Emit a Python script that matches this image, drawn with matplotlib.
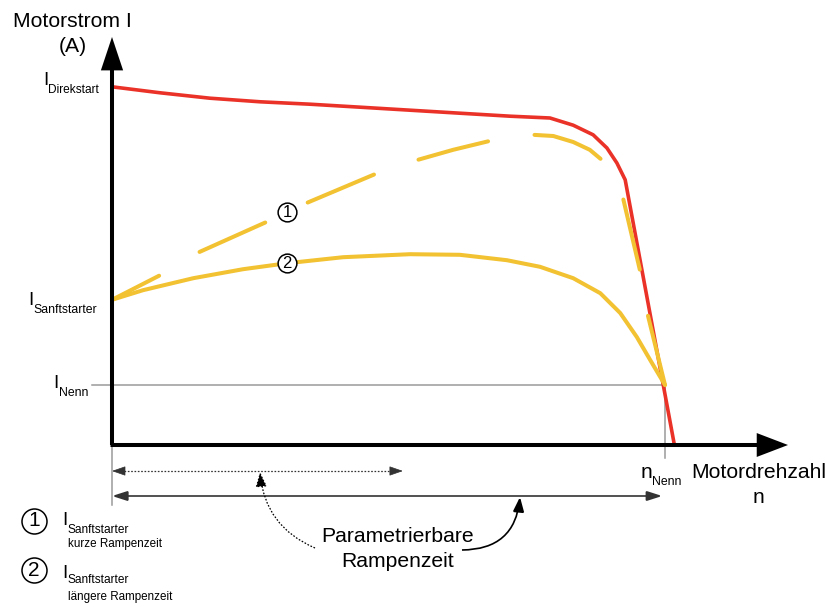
import matplotlib
matplotlib.use("Agg")
import matplotlib.pyplot as plt
from matplotlib.patches import FancyArrowPatch

plt.rcParams['font.family'] = ['Liberation Sans', 'DejaVu Sans']
plt.rcParams['lines.scale_dashes'] = False

# ---- data (speed in % of n_Nenn, current in multiples of I_Nenn) ----
red_speed = [0, 8.7, 17.7, 26.8, 35.8, 44.9, 53.9, 62.9, 72.0, 79.2, 83.4, 87.0, 89.5, 91.3, 92.8, 101.7]
red_current = [5.97, 5.87, 5.78, 5.72, 5.68, 5.63, 5.58, 5.53, 5.48, 5.45, 5.33, 5.17, 4.95, 4.70, 4.42, 0.0]

soft1_speed = [0, 8.7, 15.4, 28.0, 35.1, 47.7, 55.2, 61.7, 68.4, 76.1, 79.8, 83.4, 86.4, 88.6, 90.6, 92.4, 95.5, 96.8, 100]
soft1_current = [2.42, 2.83, 3.20, 3.72, 4.03, 4.52, 4.75, 4.92, 5.07, 5.17, 5.15, 5.05, 4.92, 4.75, 4.45, 4.12, 2.90, 2.20, 1.0]

soft2_speed = [0, 5.6, 14.7, 23.7, 31.7, 41.8, 53.9, 62.9, 71.4, 77.4, 83.4, 88.3, 91.9, 94.9, 97.3, 100]
soft2_current = [2.42, 2.58, 2.78, 2.93, 3.03, 3.13, 3.18, 3.17, 3.08, 2.97, 2.78, 2.53, 2.20, 1.80, 1.42, 1.0]

I_nenn = 1.0
n_nenn = 100
ramp_short_end = 52.6
ramp_long_end = 99.5
y_tick_labels = ["Direkstart", "Sanftstarter", "Nenn"]

# ---- figure geometry ----
PX_X, PX_Y = 5.53, 60.0      # pixels per data unit
OX, OY = 112, 445            # origin in pixels
W, H = 829, 604

def P(px, py):
    return ((px - OX) / PX_X, (OY - py) / PX_Y)

fig = plt.figure(figsize=(W / 100, H / 100), dpi=100)
ax = fig.add_axes([0, 0, 1, 1])
ax.set_xlim(-OX / PX_X, (W - OX) / PX_X)
ax.set_ylim((OY - H) / PX_Y, OY / PX_Y)
ax.axis('off')

RED = '#EA3228'
YEL = '#F2C232'
GREY = '#9a9a9a'
DARK = '#333333'

# grey guide lines
ax.plot([P(92, 0)[0], n_nenn], [I_nenn, I_nenn], color=GREY, lw=1.1, zorder=1)
ax.plot([n_nenn, n_nenn], [I_nenn, P(0, 458)[1]], color=GREY, lw=1.1, zorder=1)
ax.plot([0, 0], [0, P(0, 505)[1]], color=GREY, lw=1.1, zorder=1)

# curves
ax.plot(red_speed, red_current, color=RED, lw=2.6, solid_joinstyle='round', solid_capstyle='round', zorder=3)
ax.plot(soft2_speed, soft2_current, color=YEL, lw=2.9, solid_joinstyle='round', solid_capstyle='round', zorder=4)
ax.plot(soft1_speed, soft1_current, color=YEL, lw=2.9, dash_capstyle='round', dash_joinstyle='round',
        linestyle=(13.7, (51.8, 33.8)), zorder=4)

# axes with arrows
def arrow(a, b, style, lw, color, ls='-', conn='arc3', z=5):
    p = FancyArrowPatch(a, b, arrowstyle=style, mutation_scale=1, lw=lw, color=color,
                        linestyle=ls, connectionstyle=conn, shrinkA=0, shrinkB=0, zorder=z,
                        capstyle='butt', joinstyle='miter')
    ax.add_patch(p)

arrow((0, 0), P(OX, 37), '-|>,head_length=18,head_width=6', 2.9, 'black', z=6)
arrow(P(OX - 1.5, OY), P(788, OY), '-|>,head_length=17,head_width=6.5', 2.9, 'black', z=6)

# ramp time ranges
y_short = P(0, 471)[1]
head_len = 12 / PX_X
ax.plot([head_len, ramp_short_end - head_len], [y_short, y_short], color=DARK, lw=0.9,
        linestyle=(0, (1.2, 1.2)), zorder=5)
arrow((head_len, y_short), (0, y_short), '-|>,head_length=8.6,head_width=3', 0.5, DARK)
arrow((ramp_short_end - head_len, y_short), (ramp_short_end, y_short), '-|>,head_length=8.6,head_width=3', 0.5, DARK)
arrow((0, P(0, 496)[1]), (ramp_long_end, P(0, 496)[1]), '<|-|>,head_length=9.4,head_width=3', 1.2, DARK)

# curved annotation arrows
arrow(P(315, 548), P(260, 472), '-|>,head_length=9,head_width=3.4', 0.9, 'black', ls=(0, (1.2, 1.2)),
      conn='arc3,rad=-0.3')
arrow(P(462, 550), P(520, 497), '-|>,head_length=9,head_width=3.4', 1.2, 'black', conn='arc3,rad=0.45')

# curve labels
for (px, py), num in [((287, 212), '1'), ((287, 263), '2')]:
    x, y = P(px, py)
    ax.plot([x], [y], marker='o', ms=13.5, mfc='white', mec='black', mew=1.1, zorder=7)
    ax.text(x, y - 0.01, num, fontsize=12, ha='center', va='center', zorder=8)

# axis texts
def T(px, py, s, size, ha='left', va='baseline'):
    x, y = P(px, py)
    ax.text(x, y, s, fontsize=size, ha=ha, va=va, color='black', zorder=8)

T(72, 27, 'Motorstrom I', 15.2, ha='center')
T(73, 52, '(A)', 15.2, ha='center')

T(43, 85, 'I', 13.5)
T(48, 93, y_tick_labels[0], 8.6)
T(28, 305, 'I', 13.5)
T(33, 313, y_tick_labels[1], 8.8)
T(53, 388, 'I', 13.5)
T(59, 396, y_tick_labels[2], 8.8)

T(641, 478, 'n', 15.2)
T(652, 485, 'Nenn', 8.8)
T(691, 478, 'Motordrehzahl', 15.2)
T(758, 503, 'n', 15.2, ha='center')

T(398, 542, 'Parametrierbare', 15.2, ha='center')
T(398, 567, 'Rampenzeit', 15.2, ha='center')

# legend
for (cy, num, desc, sub_base, desc_base, ib) in [(521, '1', 'kurze Rampenzeit', 533, 547, 525),
                                                 (570, '2', 'längere Rampenzeit', 583, 600, 578)]:
    x, y = P(34, cy)
    ax.plot([x], [y], marker='o', ms=18, mfc='white', mec='black', mew=1.1, zorder=7)
    ax.text(x, y, num, fontsize=15, ha='center', va='center', zorder=8)
    T(62, ib, 'I', 13.5)
    T(68, sub_base, 'Sanftstarter', 8.6)
    T(68, desc_base, desc, 8.4)

fig.savefig('out.png', dpi=100)
